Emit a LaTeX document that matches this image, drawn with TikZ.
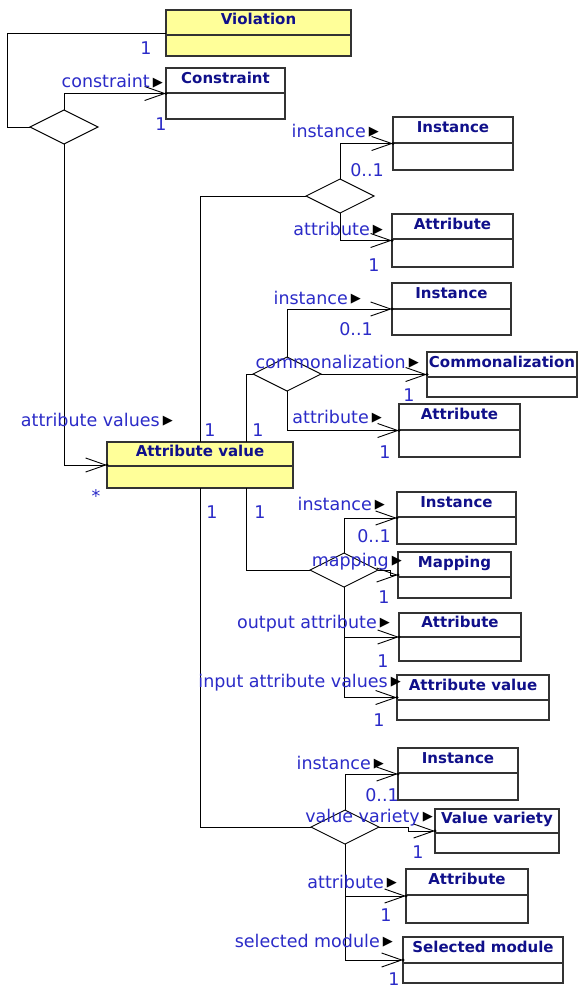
\documentclass[tikz,border=0pt]{standalone}
\usepackage{fontspec}
\setmainfont{DejaVu Sans}
\usetikzlibrary{arrows.meta,shapes.geometric}
\newcommand{\rolefont}{\fontsize{17.5}{18}\selectfont}
\newcommand{\titlefont}{\fontsize{15}{15}\selectfont\bfseries}
\newcommand{\dirmark}{\hspace{3pt}\raisebox{1.5pt}{\color{black}\fontsize{13}{13}\selectfont ▶}}

\begin{document}
\begin{tikzpicture}[x=1pt,y=-1pt,
  classhead/.style={draw=BORDER,line width=1.2pt,anchor=north west,inner sep=0pt,outer sep=0pt,font=\titlefont,text=TITLE,text height=10pt,text depth=5pt},
  classbody/.style={draw=BORDER,line width=1.2pt,anchor=north west,inner sep=0pt,outer sep=0pt},
  assocdiamond/.style={diamond,draw=black,line width=0.9pt,minimum width=68pt,minimum height=34pt,inner sep=0pt,outer sep=0pt},
  assoc/.style={draw=black,line width=0.9pt},
  nav/.style={assoc,-{Straight Barb[length=20pt,width=14pt]}},
  role/.style={anchor=base east,inner sep=0pt,text=ROLE,font=\rolefont},
  mult/.style={anchor=base,inner sep=0pt,text=ROLE,font=\rolefont}]
\definecolor{BORDER}{HTML}{333333}
\definecolor{TITLE}{HTML}{10108A}
\definecolor{ROLE}{HTML}{2B2BC8}
\definecolor{CLASSYELLOW}{HTML}{FFFF99}
\fill[white] (0,0) rectangle (581,990);
\useasboundingbox (0,0) rectangle (581,990);
% classes: name/x/y/width/head/body/fill/title
\foreach \n/\x/\y/\w/\hh/\bh/\f/\t in {viol/166/10/185/25/21/CLASSYELLOW/Violation, cons/166/68/119/25/26/white/Constraint,
  inst1/393/117/120/26/27/white/Instance, attr1/392/214/121/25/28/white/Attribute,
  inst2/392/283/119/26/26/white/Instance, comm/427/352/150/25/20/white/Commonalization,
  attr2/399/404/121/26/27/white/Attribute, av/107/442/186/24/22/CLASSYELLOW/Attribute value,
  inst3/397/492/119/25/27/white/Instance, map/398/552/113/25/21/white/Mapping,
  attr3/399/613/122/24/24/white/Attribute, av2/397/675/152/25/20/white/Attribute value,
  inst4/398/748/120/25/27/white/Instance, vv/435/809/124/24/20/white/Value variety,
  attr4/406/869/122/26/28/white/Attribute, sel/403/937/160/26/20/white/Selected module}{
  \node[classhead,fill=\f,minimum width=\w pt,minimum height=\hh pt] (\n) at (\x,\y) {\t};
  \node[classbody,fill=\f,minimum width=\w pt,minimum height=\bh pt] (\n-c) at (\n.south west) {};
  \coordinate (\n-w) at (\x,{\y+(\hh+\bh)/2});
}
% association diamonds
\foreach \n/\x/\y in {d1/64/127, d2/340/196, d3/287/374, d4/344/570, d5/345/827}{\node[assocdiamond] (\n) at (\x,\y) {};}
% navigable ends
\foreach \a/\b in {d1.north/cons, d1.south/av, d2.north/inst1, d2.south/attr1, d3.north/inst2, d3.east/comm, d3.south/attr2,
  d4.north/inst3, d4.south/attr3, d4.south/av2, d5.north/inst4, d5.south/attr4, d5.south/sel}{
  \draw[nav] (\a) |- (\b-w); \fill (\b-w) circle (1.6pt);}
\draw[nav] (d4.east) -- ++(12,0) |- (map-w); \fill (map-w) circle (1.6pt);
\draw[nav] (d5.east) -- ++(29,0) |- (vv-w); \fill (vv-w) circle (1.6pt);
% plain ends
\draw[assoc] (d1.west) -- ++(-23,0) |- (viol-w);
\draw[assoc] ([xshift=93pt]av.north west) |- (d2.west);
\draw[assoc] ([xshift=139pt]av.north west) |- (d3.west);
\draw[assoc] ([xshift=93pt]av-c.south west) |- (d5.west);
\draw[assoc] ([xshift=139pt]av-c.south west) |- (d4.west);
% role names
\foreach \n/\x/\y/\t in {r1/163/88/constraint, r2/379/137/instance, r3/383/235/attribute, r4/361/304/instance,
  r5/419/368/commonalization, r6/382/423/attribute, r7/173/426/attribute values, r8/385/510/instance,
  r9/402/566/mapping, r10/390/628/output attribute, r11/401/687/input attribute values, r12/384/769/instance,
  r13/433/822/value variety, r14/397/888/attribute, r15/393/947/selected module}{\node[role] (\n) at (\x,\y) {\t\dirmark};}
% multiplicities
\foreach \n/\x/\y/\t in {m1/146/55/1, m2/161/130/1, m3/367/176/0..1, m4/374/271/1, m5/356/335/0..1, m6/409/401/1,
  m7/385/458/1, m8/210/436/1, m9/258/436/1, m10/96/502/*, m11/212/518/1, m12/260/518/1, m13/374/542/0..1,
  m14/384/603/1, m15/383/667/1, m16/379/726/1, m17/382/801/0..1, m18/418/858/1, m19/386/921/1, m20/394/985/1}{\node[mult] (\n) at (\x,\y) {\t};}
\end{tikzpicture}
\end{document}
